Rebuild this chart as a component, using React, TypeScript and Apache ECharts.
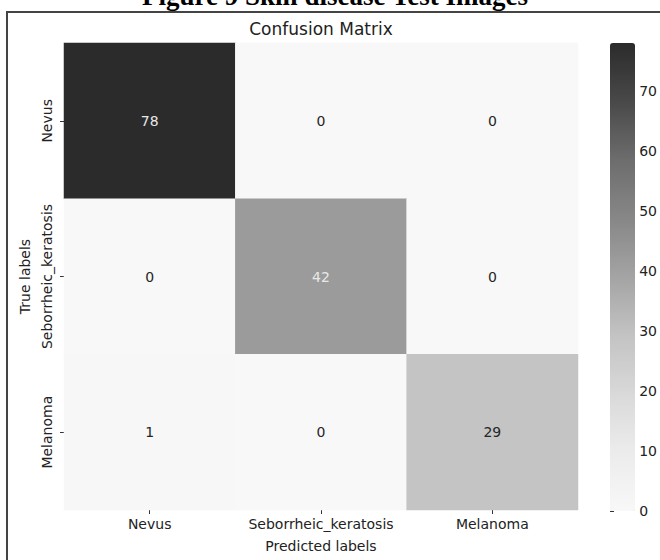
import React, { useEffect, useRef } from "react";
import * as echarts from "echarts";

const predictedLabels = ["Nevus", "Seborrheic_keratosis", "Melanoma"];
const trueLabels = ["Nevus", "Seborrheic_keratosis", "Melanoma"];
// rows: true label, columns: predicted label
const matrixRows = [
  [78, 0, 0],
  [0, 42, 0],
  [1, 0, 29],
];
const colorbarMax = 78;
const colorbarInterval = 10;
const greyStops = ["#f8f8f8", "#ececec", "#d9d9d9", "#c3c3c3", "#a4a4a4", "#878787", "#6d6d6d", "#494949", "#2b2b2b"];

export default function App() {
  const ref = useRef<HTMLDivElement>(null);
  useEffect(() => {
    if (!ref.current) return;
    const chart = echarts.init(ref.current, null, { renderer: "svg" });
    const data: any[] = [];
    matrixRows.forEach((row, r) => {
      row.forEach((v, c) => {
        data.push({
          value: [c, r, v],
          label: { color: v > colorbarMax / 2 ? "#e8e8e8" : "#262626" },
        });
      });
    });
    const font = "DejaVu Sans";
    const fs = 14;
    chart.setOption({
      animation: false,
      backgroundColor: "#ffffff",
      textStyle: { fontFamily: font },
      graphic: [
        {
          type: "rect",
          shape: { x: 7, y: 12, width: 720, height: 620 },
          style: { fill: "none", stroke: "#444444", lineWidth: 2 },
          silent: true,
        },
        {
          type: "text",
          x: 335,
          y: 9,
          style: {
            text: "Figure 9 Skin disease Test Images",
            font: "bold 27px 'Liberation Serif'",
            fill: "#000000",
            align: "center",
            verticalAlign: "bottom",
          },
        },
        {
          type: "text",
          x: 321,
          y: 29,
          style: {
            text: "Confusion Matrix",
            font: "17px 'DejaVu Sans'",
            fill: "#222222",
            align: "center",
            verticalAlign: "middle",
          },
        },
      ],
      grid: [
        { left: 64, top: 43, width: 514, height: 467 },
        { left: 610, top: 43, width: 25, height: 468 },
      ],
      xAxis: [
        {
          type: "category",
          data: predictedLabels,
          gridIndex: 0,
          axisLine: { show: false },
          axisTick: { show: true, alignWithLabel: true, length: 4, lineStyle: { color: "#333" } },
          axisLabel: { fontSize: fs, color: "#222", margin: 7, fontFamily: font, interval: 0 },
          splitLine: { show: false },
          name: "Predicted labels",
          nameLocation: "middle",
          nameGap: 29,
          nameTextStyle: { fontSize: fs, color: "#222", fontFamily: font },
        },
        { type: "value", gridIndex: 1, show: false, min: 0, max: 1 },
      ],
      yAxis: [
        {
          type: "category",
          data: trueLabels,
          inverse: true,
          gridIndex: 0,
          axisLine: { show: false },
          axisTick: { show: true, alignWithLabel: true, length: 4, lineStyle: { color: "#333" } },
          axisLabel: { fontSize: fs, color: "#222", margin: 10, rotate: 90, fontFamily: font, interval: 0 },
          splitLine: { show: false },
          name: "True labels",
          nameLocation: "middle",
          nameRotate: 90,
          nameGap: 30,
          nameTextStyle: { fontSize: fs, color: "#222", fontFamily: font },
        },
        {
          type: "value",
          gridIndex: 1,
          position: "right",
          min: 0,
          max: colorbarMax,
          interval: colorbarInterval,
          axisLine: { show: false },
          axisTick: { show: true, length: 4, lineStyle: { color: "#333" } },
          axisLabel: { fontSize: fs, color: "#222", margin: 5, fontFamily: font, showMaxLabel: false },
          splitLine: { show: false },
        },
      ],
      visualMap: {
        type: "continuous",
        min: 0,
        max: colorbarMax,
        dimension: 2,
        seriesIndex: 0,
        calculable: false,
        left: 610,
        top: 43,
        itemWidth: 25,
        itemHeight: 468,
        padding: 0,
        text: ["", ""],
        inRange: { color: greyStops },
        hoverLink: false,
      },
      series: [
        {
          type: "heatmap",
          xAxisIndex: 0,
          yAxisIndex: 0,
          data,
          label: { show: true, fontSize: fs, fontFamily: font },
          itemStyle: { borderWidth: 0 },
          emphasis: { disabled: true },
        },
        {
          type: "scatter",
          xAxisIndex: 1,
          yAxisIndex: 1,
          data: [],
          silent: true,
        },
      ],
    });
    return () => chart.dispose();
  }, []);
  return (
    <div
      ref={ref}
      style={{ position: "absolute", left: 0, top: 0, width: 660, height: 560 }}
    />
  );
}
